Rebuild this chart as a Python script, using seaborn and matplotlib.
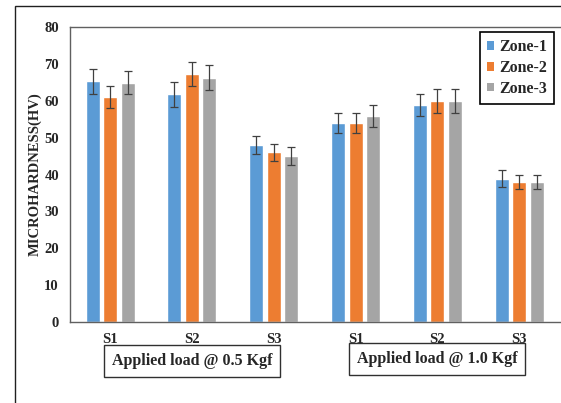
import numpy as np
import pandas as pd
import matplotlib.pyplot as plt
import seaborn as sns
from matplotlib.patches import Rectangle, Patch

# values
positions = ["0.5-S1", "0.5-S2", "0.5-S3", "1.0-S1", "1.0-S2", "1.0-S3"]
tick_labels = ["S1", "S2", "S3", "S1", "S2", "S3"]
zones = ["Zone-1", "Zone-2", "Zone-3"]
zone1 = [65.3, 61.7, 48.0, 54.0, 58.9, 38.9]
zone2 = [61.0, 67.2, 46.0, 54.0, 60.0, 38.0]
zone3 = [64.9, 66.3, 45.0, 55.9, 60.0, 38.0]
err1 = [3.4, 3.3, 2.5, 2.8, 3.0, 2.2]
err2 = [3.1, 3.3, 2.4, 2.8, 3.2, 2.0]
err3 = [3.2, 3.5, 2.5, 2.9, 3.2, 2.0]
load_labels = ["Applied load @ 0.5 Kgf", "Applied load @ 1.0 Kgf"]
colors = ["#5B9BD5", "#ED7D31", "#A5A5A5"]

df = pd.DataFrame({
    "Position": positions * 3,
    "Zone": np.repeat(zones, len(positions)),
    "HV": zone1 + zone2 + zone3,
})

sns.set_style("white")
serif = ["Liberation Serif", "DejaVu Serif"]

fig = plt.figure(figsize=(5.61, 4.03), dpi=100)
ax = fig.add_axes([70 / 561, 1 - 322 / 403, 1 - 70 / 561, (322 - 27) / 403])

sns.barplot(data=df, x="Position", y="HV", hue="Zone", palette=colors,
            order=positions, hue_order=zones, width=0.64, gap=0.2,
            saturation=1, errorbar=None, ax=ax, legend=False)

# error bars at the bar centres seaborn computed (one container per zone)
for cont, errs in zip(ax.containers, [err1, err2, err3]):
    xs = [p.get_x() + p.get_width() / 2 for p in cont.patches]
    hs = [p.get_height() for p in cont.patches]
    ax.errorbar(xs, hs, yerr=errs, fmt="none", ecolor="#404040",
                elinewidth=0.9, capsize=3, capthick=0.9)

ax.set_xlim(-0.49, 5.51)
ax.set_ylim(0, 80)
ax.set_yticks(range(0, 81, 10))
ax.set_xticks(range(len(positions)))
ax.set_xticklabels(tick_labels, fontfamily=serif, fontweight="bold", fontsize=10.5)
ax.set_yticklabels([str(v) for v in range(0, 81, 10)], fontfamily=serif,
                   fontweight="bold", fontsize=10.5)
ax.tick_params(axis="both", length=0, pad=8)
ax.set_xlabel("")
ax.set_ylabel("MICROHARDNESS(HV)", fontfamily=serif, fontweight="bold",
              fontsize=10.5, labelpad=2)
for side in ["left", "top", "bottom"]:
    ax.spines[side].set_color("#606060")
    ax.spines[side].set_linewidth(1.0)
ax.spines["right"].set_visible(False)

handles = [Patch(facecolor=c, edgecolor="none") for c in colors]
leg = ax.legend(handles, zones, loc="upper right",
                bbox_to_anchor=(554 / 561, 1 - 32 / 403), bbox_transform=fig.transFigure,
                prop={"family": serif, "weight": "bold", "size": 11.5},
                handlelength=0.45, handleheight=0.45, handletextpad=0.3,
                labelspacing=0.3, borderpad=0.45, borderaxespad=0,
                fancybox=False, framealpha=1)
leg.get_frame().set_edgecolor("black")
leg.get_frame().set_linewidth(1.2)

# load boxes under the groups
for xc, yc, txt in [(192 / 561, 1 - 361 / 403, load_labels[0]),
                    (437 / 561, 1 - 359 / 403, load_labels[1])]:
    fig.text(xc, yc, txt, ha="center", va="center", fontfamily=serif,
             fontweight="bold", fontsize=11.5,
             bbox=dict(boxstyle="square,pad=0.5", facecolor="white",
                       edgecolor="#303030", linewidth=1.0))

# outer frame
fig.patches.append(Rectangle((15 / 561, -0.1), 1.2, 1 - 6 / 403 + 0.1,
                             transform=fig.transFigure, fill=False,
                             edgecolor="#202020", linewidth=1.0, zorder=0))

fig.savefig("out.png", dpi=100)
